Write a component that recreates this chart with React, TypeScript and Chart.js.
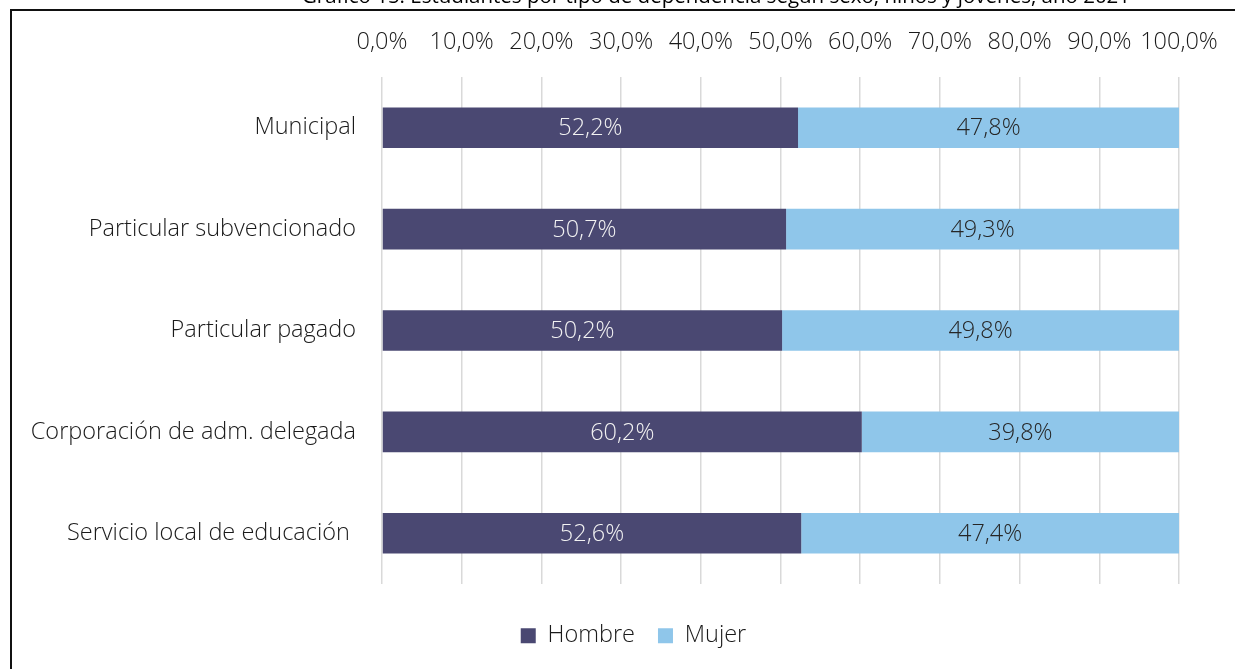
import React, { useEffect, useRef } from "react";
import { Chart, registerables } from "chart.js";

Chart.register(...registerables);

const titleText = "Gráfico 15: Estudiantes por tipo de dependencia según sexo, niños y jóvenes, año 2021";
const categories = [
  "Municipal",
  "Particular subvencionado",
  "Particular pagado",
  "Corporación de adm. delegada",
  "Servicio local de educación ",
];
const seriesNames = ["Hombre", "Mujer"];
const hombre = [52.2, 50.7, 50.2, 60.2, 52.6];
const mujer = [47.8, 49.3, 49.8, 39.8, 47.4];
const tickValues = [0, 10, 20, 30, 40, 50, 60, 70, 80, 90, 100];

const fmt = (v: number) => v.toFixed(1).replace(".", ",") + "%";
const FONT = "'Open Sans', sans-serif";
const FS = 23.5;
const FW = 350;

const framePlugin = {
  id: "frame",
  afterLayout(chart: any) {
    const lg = chart.legend;
    if (lg) {
      lg.left += 76;
      lg.top += 17;
      lg.bottom += 17;
    }
  },
  beforeDraw(chart: any) {
    const ctx = chart.ctx;
    ctx.save();
    ctx.fillStyle = "#ffffff";
    ctx.fillRect(0, 0, chart.width, chart.height);
    ctx.strokeStyle = "#111111";
    ctx.lineWidth = 2;
    ctx.strokeRect(11, 10, 1400, 800);
    ctx.fillStyle = "#000000";
    ctx.font = "400 20.5px " + FONT;
    ctx.textAlign = "center";
    ctx.textBaseline = "alphabetic";
    ctx.fillText(titleText, 716, 3);
    ctx.restore();
  },
};

const labelPlugin = {
  id: "barLabels",
  afterDatasetsDraw(chart: any) {
    const ctx = chart.ctx;
    ctx.save();
    ctx.font = `${FW} ${FS}px ${FONT}`;
    ctx.textAlign = "center";
    ctx.textBaseline = "middle";
    chart.data.datasets.forEach((ds: any, di: number) => {
      const meta = chart.getDatasetMeta(di);
      meta.data.forEach((el: any, i: number) => {
        const v = ds.data[i] as number;
        ctx.fillStyle = di === 0 ? "#f2f2f2" : "#262626";
        ctx.fillText(fmt(v), (el.x + el.base) / 2, el.y + 1);
      });
    });
    ctx.restore();
  },
};

export default function App() {
  const ref = useRef<HTMLCanvasElement>(null);
  useEffect(() => {
    if (!ref.current) return;
    const chart = new Chart(ref.current, {
      type: "bar",
      data: {
        labels: categories,
        datasets: [
          {
            label: seriesNames[0],
            data: hombre,
            backgroundColor: "#4a4872",
            categoryPercentage: 1,
            barPercentage: 0.4,
          },
          {
            label: seriesNames[1],
            data: mujer,
            backgroundColor: "#8fc6ea",
            categoryPercentage: 1,
            barPercentage: 0.4,
          },
        ],
      },
      options: {
        indexAxis: "y",
        responsive: false,
        animation: false,
        devicePixelRatio: 1,
        layout: { padding: { left: 12, top: 20, right: 56, bottom: 28.5 } },
        plugins: {
          legend: {
            position: "bottom",
            labels: {
              font: { family: FONT, size: FS, weight: FW },
              color: "#1a1a1a",
              boxWidth: 15,
              boxHeight: 15,
              padding: 23,
            },
          },
          tooltip: { enabled: false },
        },
        scales: {
          x: {
            position: "top",
            stacked: true,
            min: 0,
            max: 100,
            afterBuildTicks: (scale: any) => {
              scale.ticks = tickValues.map((v) => ({ value: v }));
            },
            afterFit: (scale: any) => {
              scale.height = 57;
              scale.paddingLeft = 0;
              scale.paddingRight = 0;
            },
            ticks: {
              callback: (v: any) => fmt(Number(v)),
              font: { family: FONT, size: FS, weight: FW },
              color: "#1a1a1a",
              padding: 20.9,
              maxRotation: 0,
              autoSkip: false,
            },
            grid: { color: "#d9d9d9", lineWidth: 1.5, drawTicks: false },
            border: { display: false },
          },
          y: {
            stacked: true,
            afterFit: (scale: any) => {
              scale.width = 370;
            },
            ticks: {
              font: { family: FONT, size: FS, weight: FW },
              color: "#1a1a1a",
              padding: 18,
            },
            grid: { display: false },
            border: { display: false },
          },
        },
      },
      plugins: [framePlugin, labelPlugin],
    });
    return () => chart.destroy();
  }, []);
  return (
    <div style={{ position: "fixed", left: 0, top: 0, width: 1235, height: 669, overflow: "hidden", background: "#fff" }}>
      <canvas ref={ref} width={1235} height={669} style={{ display: "block" }} />
    </div>
  );
}
